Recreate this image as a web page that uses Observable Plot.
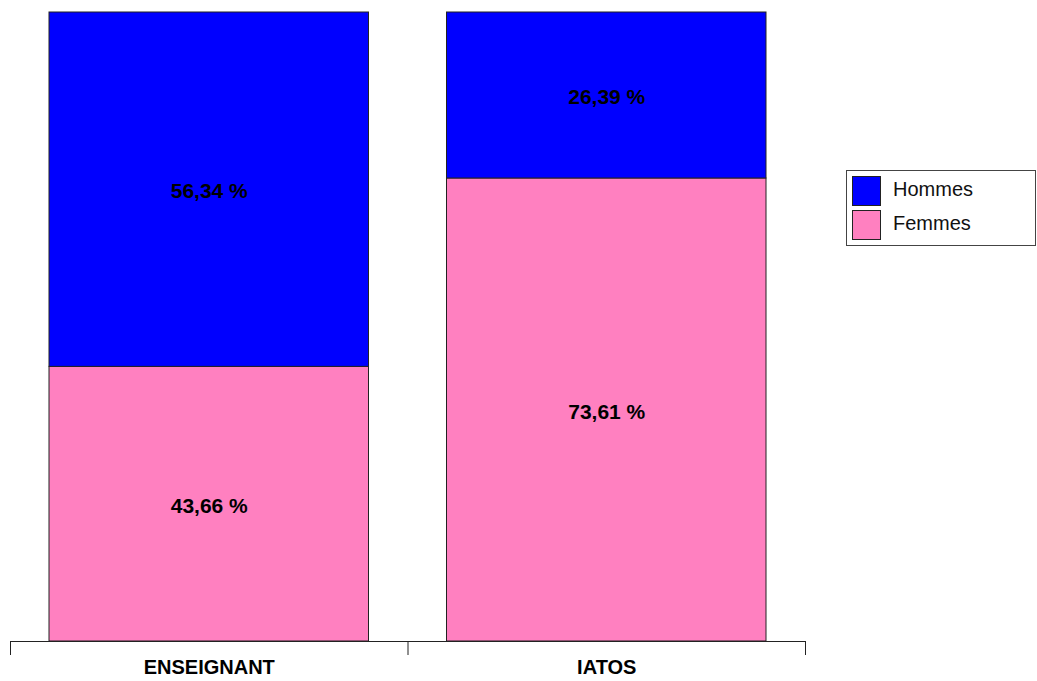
<!DOCTYPE html>
<html>
<head>
<meta charset="utf-8">
<script src="https://cdn.jsdelivr.net/npm/d3@7"></script>
<script src="https://cdn.jsdelivr.net/npm/@observablehq/plot@0.6"></script>
<style>
  html, body { margin: 0; padding: 0; background: #fff; }
  #wrap { position: relative; width: 1037px; height: 681px; font-family: "Liberation Sans", Arial, sans-serif; }
  #legend { position: absolute; left: 846px; top: 170px; width: 188px; height: 74px; border: 1px solid #444; background: #fff; }
  .item { position: absolute; left: 5px; height: 30px; display: flex; align-items: center; }
  .sw { width: 29px; height: 30px; border: 1px solid #222; box-sizing: border-box; }
  .lab { margin-left: 12px; font-size: 20px; color: #111; position: relative; top: -2px; }
</style>
</head>
<body>
<div id="wrap"></div>
<script>
const categories = ["ENSEIGNANT", "IATOS"];
const series = ["Femmes", "Hommes"];
const femmes = [43.66, 73.61];
const hommes = [56.34, 26.39];
const colors = ["#FF80C0", "#0000FF"];
const valueLabels = {Femmes: ["43,66 %", "73,61 %"], Hommes: ["56,34 %", "26,39 %"]};

// Build stacked table (Femmes at bottom, Hommes on top)
const rows = [];
categories.forEach((c, i) => {
  let base = 0;
  [["Femmes", femmes[i]], ["Hommes", hommes[i]]].forEach(([s, v]) => {
    rows.push({cat: c, i, serie: s, y1: base, y2: base + v, label: valueLabels[s][i]});
    base += v;
  });
});

const chart = Plot.plot({
  width: 1037,
  height: 681,
  marginLeft: 10,
  marginRight: 232,
  marginTop: 12,
  marginBottom: 40,
  style: {fontFamily: "'Liberation Sans', Arial, sans-serif", background: "#fff"},
  x: {domain: [0, categories.length], axis: null},
  y: {domain: [0, 100], axis: null},
  color: {domain: series, range: colors},
  marks: [
    Plot.rect(rows, {
      x1: d => d.i, x2: d => d.i + 1, y1: "y1", y2: "y2",
      insetLeft: 39, insetRight: 39,
      fill: "serie", stroke: "#222", strokeWidth: 1
    }),
    Plot.text(rows, {
      x: d => d.i + 0.5, y: d => (d.y1 + d.y2) / 2, text: "label",
      fontSize: 21, fontWeight: "bold", fill: "#000", dy: 2
    }),
    Plot.ruleY([0], {stroke: "#222", strokeWidth: 1}),
    Plot.axisX({ticks: d3.range(categories.length + 1), tickSize: 14, tickFormat: () => "", stroke: "#222"}),
    Plot.axisX({
      ticks: categories.map((c, i) => i + 0.5),
      tickSize: 0, tickPadding: 18,
      tickFormat: v => categories[Math.floor(v)],
      fontSize: 20, fontWeight: "bold", fill: "#000"
    })
  ]
});

const wrap = document.getElementById("wrap");
wrap.appendChild(chart);

const legend = document.createElement("div");
legend.id = "legend";
[["Hommes", colors[1]], ["Femmes", colors[0]]].forEach(([name, col], k) => {
  const it = document.createElement("div");
  it.className = "item";
  it.style.top = (5 + k * 34) + "px";
  it.innerHTML = `<div class="sw" style="background:${col}"></div><span class="lab">${name}</span>`;
  legend.appendChild(it);
});
wrap.appendChild(legend);
</script>
</body>
</html>
